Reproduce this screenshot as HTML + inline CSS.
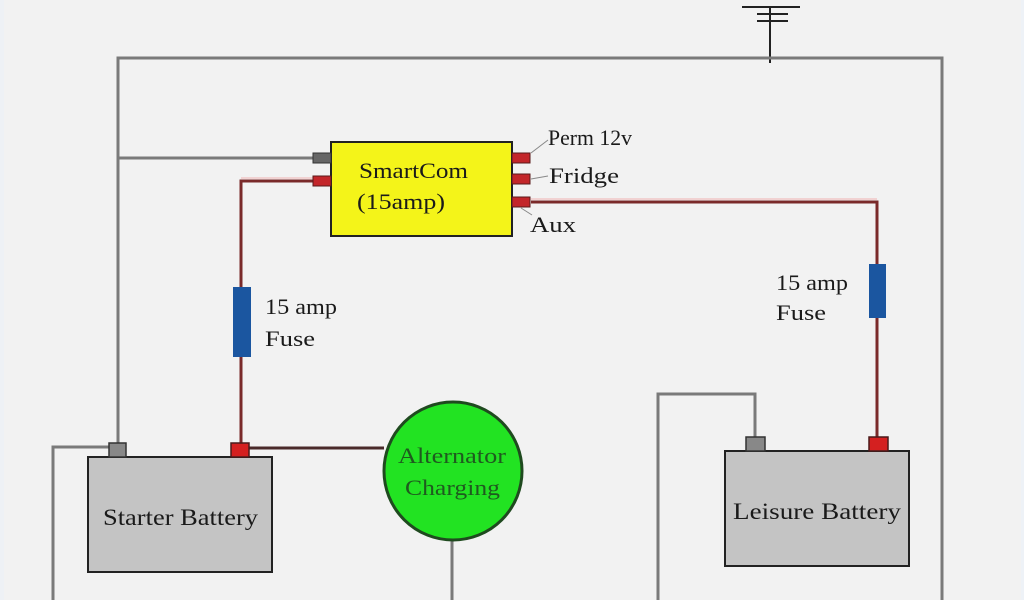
<!DOCTYPE html>
<html><head><meta charset="utf-8"><style>
html,body{margin:0;padding:0;background:#f2f2f2;}
svg{display:block;}
text{font-family:"Liberation Serif",serif;fill:#1a1a1a;}
</style></head><body>
<svg width="1024" height="600" viewBox="0 0 1024 600" xmlns="http://www.w3.org/2000/svg">
<rect width="1024" height="600" fill="#f2f2f2"/>
<rect x="0" y="0" width="4" height="600" fill="#eef1f5"/>
<rect x="1021" y="0" width="3" height="600" fill="#eef2f7"/>
<g stroke="#222" stroke-width="2" fill="none">
<line x1="742" y1="7" x2="800" y2="7"/>
<line x1="757" y1="14" x2="788" y2="14"/>
<line x1="757" y1="21" x2="788" y2="21"/>
<line x1="770" y1="7" x2="770" y2="63"/>
</g>
<g stroke="#7a7a7a" stroke-width="3" fill="none">
<polyline points="118,445 118,58 942,58 942,600"/>
<line x1="118" y1="158" x2="315" y2="158"/>
<polyline points="110,447 53,447 53,600"/>
<line x1="452" y1="540" x2="452" y2="600"/>
<polyline points="755,437 755,394 658,394 658,600"/>
</g>
<g stroke="#7a2a2a" stroke-width="3" fill="none">
<polyline points="315,181 241,181 241,444"/>
<line x1="249" y1="448" x2="384" y2="448" stroke="#4a2a2a"/>
<polyline points="531,202 877,202 877,437"/>
</g>
<g stroke="#e88" stroke-width="1" fill="none" opacity="0.6">
<line x1="531" y1="199" x2="877" y2="199"/>
<line x1="315" y1="178" x2="241" y2="178"/>
</g>
<rect x="233" y="287" width="18" height="70" fill="#1b56a0"/>
<rect x="869" y="264" width="17" height="54" fill="#1b56a0"/>
<rect x="331" y="142" width="181" height="94" fill="#f4f419" stroke="#222" stroke-width="2"/>
<rect x="313" y="153" width="18" height="10" fill="#666" stroke="#333" stroke-width="1"/>
<rect x="313" y="176" width="18" height="10" fill="#c3262a" stroke="#5a1a1a" stroke-width="1"/>
<rect x="512" y="153" width="18" height="10" fill="#c3262a" stroke="#5a1a1a" stroke-width="1"/>
<rect x="512" y="174" width="18" height="10" fill="#c3262a" stroke="#5a1a1a" stroke-width="1"/>
<rect x="512" y="197" width="18" height="10" fill="#c3262a" stroke="#5a1a1a" stroke-width="1"/>
<g stroke="#888" stroke-width="1">
<line x1="531" y1="153" x2="548" y2="140"/>
<line x1="531" y1="179" x2="548" y2="176"/>
<line x1="521" y1="208" x2="532" y2="215"/>
</g>
<text x="359" y="178" font-size="22" textLength="109" lengthAdjust="spacingAndGlyphs">SmartCom</text>
<text x="357" y="209" font-size="22" textLength="88" lengthAdjust="spacingAndGlyphs">(15amp)</text>
<text x="548" y="145" font-size="22" textLength="84" lengthAdjust="spacingAndGlyphs">Perm 12v</text>
<text x="549" y="183" font-size="22" textLength="70" lengthAdjust="spacingAndGlyphs">Fridge</text>
<text x="530" y="232" font-size="22" textLength="46" lengthAdjust="spacingAndGlyphs">Aux</text>
<text x="265" y="314" font-size="22" textLength="72" lengthAdjust="spacingAndGlyphs">15 amp</text>
<text x="265" y="346" font-size="22" textLength="50" lengthAdjust="spacingAndGlyphs">Fuse</text>
<text x="776" y="290" font-size="22" textLength="72" lengthAdjust="spacingAndGlyphs">15 amp</text>
<text x="776" y="320" font-size="22" textLength="50" lengthAdjust="spacingAndGlyphs">Fuse</text>
<rect x="88" y="457" width="184" height="115" fill="#c4c4c4" stroke="#222" stroke-width="2"/>
<rect x="109" y="443" width="17" height="14" fill="#888" stroke="#333" stroke-width="1.5"/>
<rect x="231" y="443" width="18" height="14" fill="#d42020" stroke="#4a1a1a" stroke-width="1.5"/>
<text x="103" y="525" font-size="23" textLength="155" lengthAdjust="spacingAndGlyphs">Starter Battery</text>
<circle cx="453" cy="471" r="69" fill="#22e322" stroke="#1f4a1f" stroke-width="3"/>
<text x="398" y="463" font-size="22" textLength="108" lengthAdjust="spacingAndGlyphs" style="fill:#1f5a1f">Alternator</text>
<text x="405" y="495" font-size="22" textLength="95" lengthAdjust="spacingAndGlyphs" style="fill:#1f5a1f">Charging</text>
<rect x="725" y="451" width="184" height="115" fill="#c4c4c4" stroke="#222" stroke-width="2"/>
<rect x="746" y="437" width="19" height="14" fill="#888" stroke="#333" stroke-width="1.5"/>
<rect x="869" y="437" width="19" height="14" fill="#d42020" stroke="#4a1a1a" stroke-width="1.5"/>
<text x="733" y="519" font-size="23" textLength="168" lengthAdjust="spacingAndGlyphs">Leisure Battery</text>
</svg>
</body></html>
